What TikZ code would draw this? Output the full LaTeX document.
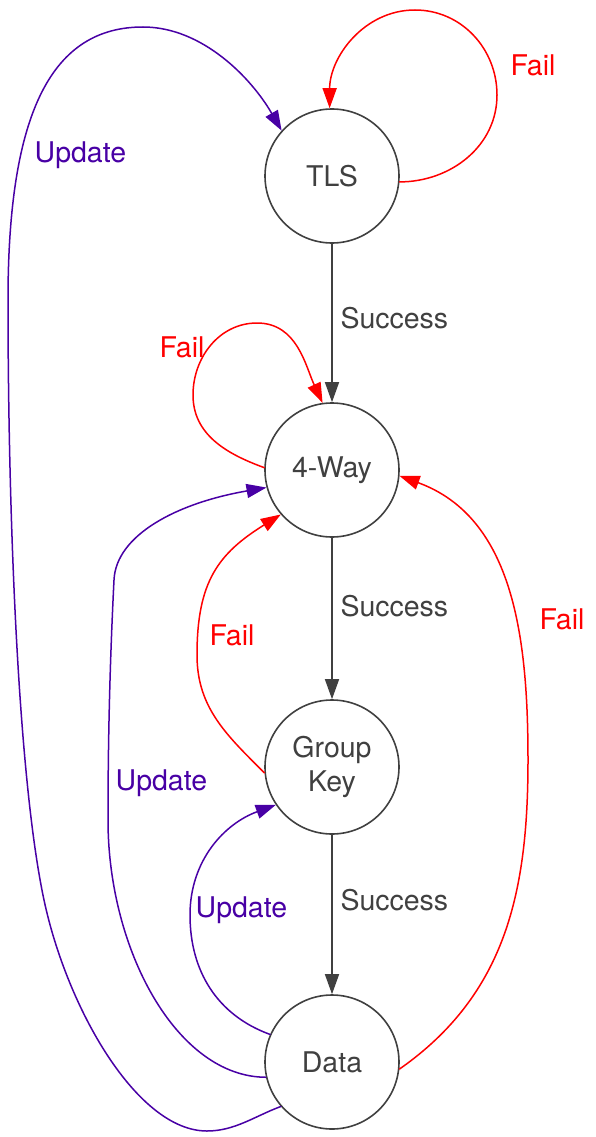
\documentclass[tikz,border=0pt]{standalone}
\usepackage{fontspec}
\setmainfont{TeX Gyre Heros}
\usepackage{tikz}
\usetikzlibrary{arrows.meta}

\definecolor{ink}{RGB}{64,64,64}
\definecolor{failred}{RGB}{255,0,0}
\definecolor{updviolet}{RGB}{72,0,165}

\begin{document}
\begin{tikzpicture}[x=1pt,y=-1pt,>={Triangle[length=20pt,width=14pt]},line cap=round,line join=round,
  every node/.style={font=\fontsize{28.5}{34}\selectfont},
  state/.style={circle,draw=ink,line width=1.6pt,minimum size=134pt,inner sep=0pt,text=ink,align=center},
  succ/.style={->,draw=ink,line width=1.5pt},
  fail/.style={->,draw=failred,line width=1.5pt},
  upd/.style={->,draw=updviolet,line width=1.5pt}]
  \useasboundingbox (0,0) rectangle (595,1137);

  % States
  \node[state] (tls) at (332,176) {TLS};
  \node[state] (way) at (332,470) {4-Way};
  \node[state] (grp) at (332,767) {Group\\Key};
  \node[state] (dat) at (332,1062) {Data};

  % Success chain
  \draw[succ] (tls) -- (way);
  \draw[succ] (way) -- (grp);
  \draw[succ] (grp) -- (dat);
  \node[anchor=west,text=ink] (s1) at (337,318) {Success};
  \node[anchor=west,text=ink] (s2) at (337,606) {Success};
  \node[anchor=west,text=ink] (s3) at (337,900) {Success};

  % Fail loops and returns
  \draw[fail] (tls.-5) to[out=0,in=-90] (497,95) to[out=90,in=0] (415,10) to[out=180,in=90] (tls.92);
  \draw[fail] (way.178) to[out=160,in=-90] (193,395) to[out=90,in=180] (257,323) to[out=0,in=115] (way.98);
  \draw[fail] (grp.185) to[out=135,in=-90] (197,655) to[out=90,in=212,looseness=1.15] (way.221);
  \draw[fail] (dat.-6) to[out=35,in=-90] (528,760) to[out=90,in=-20] (way.-5);
  \node[anchor=west,text=failred] (f1) at (507,65) {Fail};
  \node[anchor=west,text=failred] (f2) at (156,347) {Fail};
  \node[anchor=west,text=failred] (f3) at (206,635) {Fail};
  \node[anchor=west,text=failred] (f4) at (536,619) {Fail};

  % Updates back from Data
  \draw[upd] (dat.156) to[out=160,in=-90] (190,915) to[out=90,in=200] (grp.214);
  \draw[upd] (dat.193) .. controls (177,1077) and (108,950) .. (108,820)
    .. controls (108,720) and (111,640) .. (114,580)
    .. controls (116,535) and (177,503) .. (way.195);
  \draw[upd] (dat.221) .. controls (255,1116) and (235,1131) .. (207,1131)
    .. controls (137,1131) and (67,1008) .. (44,900)
    .. controls (17,773) and (8,500) .. (8,300)
    .. controls (8,110) and (53,27) .. (143,27)
    .. controls (203,27) and (252,79) .. (tls.138);
  \node[anchor=west,text=updviolet] (u1) at (31,155) {Update};
  \node[anchor=west,text=updviolet] (u2) at (112,783) {Update};
  \node[anchor=west,text=updviolet] (u3) at (192,910) {Update};
\end{tikzpicture}
\end{document}
